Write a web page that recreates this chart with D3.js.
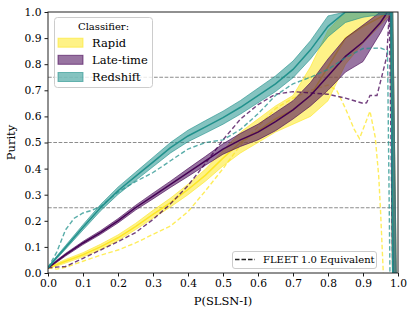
<!DOCTYPE html>
<html><head><meta charset="utf-8">
<script src="https://cdn.jsdelivr.net/npm/d3@7"></script>
<style>body{margin:0;background:#fff} svg{display:block} svg text{font-family:'DejaVu Serif',serif !important}</style>
</head><body><svg id="c" width="415" height="314"></svg>
<script>
// ---- data ----
const pGrid = [0,0.025,0.05,0.1,0.15,0.2,0.25,0.3,0.35,0.4,0.45,0.5,0.55,0.6,0.65,0.7,0.75,0.8,0.85,0.9,0.95,0.97,0.98,0.985,0.995];

const rapidMid = [0.02,0.032,0.045,0.07,0.1,0.135,0.178,0.225,0.27,0.32,0.375,0.44,0.5,0.545,0.59,0.625,0.68,0.79,0.9,0.945,0.98,1.0,1.0,0,0];
const rapidLo  = [0.017,0.027,0.038,0.062,0.09,0.124,0.166,0.21,0.253,0.3,0.352,0.41,0.46,0.5,0.54,0.57,0.6,0.66,0.8,0.88,0.95,0.98,0.97,0,0];
const rapidHi  = [0.023,0.037,0.052,0.078,0.11,0.146,0.19,0.24,0.287,0.34,0.398,0.47,0.54,0.59,0.64,0.68,0.79,0.93,1,1,1,1,1,1,0];

const lateMid = [0.02,0.045,0.07,0.115,0.155,0.2,0.25,0.295,0.34,0.385,0.43,0.475,0.51,0.54,0.58,0.625,0.68,0.755,0.83,0.885,0.96,1.0,1.0,0,0];
const lateLo  = [0.018,0.041,0.065,0.109,0.148,0.192,0.241,0.284,0.328,0.37,0.413,0.455,0.485,0.51,0.545,0.59,0.64,0.70,0.77,0.81,0.92,0.97,0.96,0,0];
const lateHi  = [0.022,0.049,0.075,0.121,0.162,0.208,0.259,0.306,0.352,0.4,0.447,0.495,0.535,0.57,0.615,0.66,0.73,0.82,0.9,0.95,1,1,1,1,0];

const redMid = [0.02,0.06,0.098,0.175,0.25,0.315,0.37,0.425,0.48,0.525,0.56,0.595,0.635,0.68,0.725,0.78,0.855,0.945,1,1,1,1,1,0,0];
const redLo  = [0.017,0.055,0.091,0.165,0.238,0.301,0.354,0.407,0.46,0.503,0.536,0.57,0.609,0.652,0.695,0.748,0.82,0.905,0.96,0.98,0.99,0.99,0.99,0,0];
const redHi  = [0.023,0.065,0.105,0.185,0.262,0.329,0.386,0.443,0.5,0.547,0.584,0.62,0.661,0.708,0.755,0.812,0.89,0.985,1,1,1,1,1,1,0];

// FLEET 1.0 equivalent (dashed)
const rapidFleetX = [0,0.025,0.05,0.1,0.15,0.2,0.25,0.3,0.35,0.4,0.45,0.5,0.55,0.6,0.65,0.7,0.75,0.8,0.825,0.85,0.875,0.89,0.9,0.92,0.935,0.945,0.95,0.958];
const rapidFleetY = [0.02,0.015,0.022,0.045,0.068,0.088,0.115,0.148,0.18,0.235,0.315,0.4,0.49,0.56,0.63,0.67,0.7,0.72,0.70,0.63,0.55,0.515,0.55,0.62,0.52,0.37,0.24,0.0];

const lateFleetX = [0,0.05,0.1,0.15,0.2,0.25,0.3,0.35,0.4,0.45,0.5,0.55,0.6,0.65,0.7,0.75,0.8,0.85,0.9,0.91,0.92,0.94,0.955,0.968,0.975,0.985];
const lateFleetY = [0.02,0.025,0.056,0.088,0.12,0.155,0.205,0.265,0.335,0.42,0.51,0.59,0.645,0.685,0.695,0.69,0.685,0.67,0.65,0.652,0.68,0.68,0.76,0.83,1.0,0];

const redFleetX = [0,0.025,0.05,0.075,0.1,0.125,0.15,0.2,0.25,0.3,0.35,0.4,0.45,0.5,0.55,0.6,0.65,0.7,0.75,0.8,0.85,0.9,0.95,0.97,0.977];
const redFleetY = [0.02,0.08,0.165,0.21,0.23,0.24,0.255,0.31,0.35,0.385,0.43,0.475,0.5,0.51,0.55,0.61,0.68,0.725,0.75,0.78,0.825,0.86,0.862,0.852,0];

const classifiers = ["Rapid","Late-time","Redshift"];
const colors = ["#fde725","#440154","#21918c"];
const refLines = [0.25,0.5,0.75];
const tickVals = [0,0.1,0.2,0.3,0.4,0.5,0.6,0.7,0.8,0.9,1.0];

const series = [
  {name:classifiers[0], color:colors[0], mid:rapidMid, lo:rapidLo, hi:rapidHi, fx:rapidFleetX, fy:rapidFleetY},
  {name:classifiers[1], color:colors[1], mid:lateMid, lo:lateLo, hi:lateHi, fx:lateFleetX, fy:lateFleetY},
  {name:classifiers[2], color:colors[2], mid:redMid, lo:redLo, hi:redHi, fx:redFleetX, fy:redFleetY}
];

// ---- layout ----
const FONT = "'DejaVu Serif', serif";
const W=415, H=314, m={l:48,r:17,t:12,b:41};
const svg = d3.select("#c");
const x = d3.scaleLinear([0,1],[m.l, W-m.r]);
const y = d3.scaleLinear([0,1],[H-m.b, m.t]);

svg.append("clipPath").attr("id","clip").append("rect")
  .attr("x",m.l).attr("y",m.t).attr("width",W-m.l-m.r).attr("height",H-m.t-m.b);

const plot = svg.append("g").attr("clip-path","url(#clip)");

plot.selectAll("line.ref").data(refLines).join("line").attr("class","ref")
  .attr("x1",m.l).attr("x2",W-m.r).attr("y1",d=>y(d)).attr("y2",d=>y(d))
  .attr("stroke","#8c8c8c").attr("stroke-width",1).attr("stroke-dasharray","3.7,1.6");

const area = (s)=>d3.area().x((d,i)=>x(pGrid[i])).y0((d,i)=>y(s.lo[i])).y1((d,i)=>y(s.hi[i]))(s.mid);
const midLine = d3.line().x((d,i)=>x(pGrid[i])).y(d=>y(d));

series.forEach(s=>{
  plot.append("path").attr("d",area(s))
    .attr("fill",s.color).attr("fill-opacity",0.55)
    .attr("stroke",s.color).attr("stroke-opacity",0.6).attr("stroke-width",1);
  plot.append("path").attr("d",midLine(s.mid))
    .attr("fill","none").attr("stroke",s.color).attr("stroke-width",1.5);
  const fl = d3.line().x((d,i)=>x(s.fx[i])).y(d=>y(d));
  plot.append("path").attr("d",fl(s.fy))
    .attr("fill","none").attr("stroke",s.color).attr("stroke-width",1.4)
    .attr("stroke-opacity",0.75).attr("stroke-dasharray","4.5,2.5");
});

// axes
const fmt = d3.format(".1f");
const gx = svg.append("g").attr("transform",`translate(0,${H-m.b})`)
  .call(d3.axisBottom(x).tickValues(tickVals).tickFormat(fmt).tickSize(3.5).tickPadding(3));
const gy = svg.append("g").attr("transform",`translate(${m.l},0)`)
  .call(d3.axisLeft(y).tickValues(tickVals).tickFormat(fmt).tickSize(3.5).tickPadding(3));
[gx,gy].forEach(g=>{
  g.attr("font-family",null);
  g.select(".domain").remove();
  g.selectAll("text").style("font-family",FONT).style("font-size","10.7px").attr("fill","#000");
  g.selectAll("line").attr("stroke","#000").attr("stroke-width",0.9);
});
svg.append("rect").attr("x",m.l).attr("y",m.t).attr("width",W-m.l-m.r).attr("height",H-m.t-m.b)
  .attr("fill","none").attr("stroke","#222").attr("stroke-width",1);

svg.append("text").attr("x",(m.l+W-m.r)/2).attr("y",305).attr("text-anchor","middle")
  .style("font-family",FONT).style("font-size","11.5px").text("P(SLSN-I)");
svg.append("text").attr("transform",`translate(14.5,${(m.t+H-m.b)/2}) rotate(-90)`).attr("text-anchor","middle")
  .style("font-family",FONT).style("font-size","11.5px").text("Purity");

// legend 1
const lg = svg.append("g");
lg.append("rect").attr("x",54.5).attr("y",17.5).attr("width",98).attr("height",70).attr("rx",3)
  .attr("fill","#fff").attr("fill-opacity",0.8).attr("stroke","#ccc");
lg.append("text").attr("x",103.5).attr("y",30).attr("text-anchor","middle")
  .style("font-family",FONT).style("font-size","10px").text("Classifier:");
const rowY = [42.7,59.8,77];
series.forEach((s,i)=>{
  lg.append("rect").attr("x",58).attr("y",rowY[i]-4.5).attr("width",25).attr("height",9)
    .attr("fill",s.color).attr("fill-opacity",0.55).attr("stroke",s.color).attr("stroke-opacity",0.6);
  lg.append("text").attr("x",92).attr("y",rowY[i]+4.2)
    .style("font-family",FONT).style("font-size","11.5px").text(s.name);
});

// legend 2
const lg2 = svg.append("g");
lg2.append("rect").attr("x",232.5).attr("y",251.5).attr("width",144).attr("height",17).attr("rx",2.5)
  .attr("fill","#fff").attr("fill-opacity",0.8).attr("stroke","#ccc");
lg2.append("line").attr("x1",235).attr("x2",255).attr("y1",259.5).attr("y2",259.5)
  .attr("stroke","#222").attr("stroke-width",1.5).attr("stroke-dasharray","4.5,2");
lg2.append("text").attr("x",263).attr("y",262.8)
  .style("font-family",FONT).style("font-size","10px").text("FLEET 1.0 Equivalent");
</script></body></html>
